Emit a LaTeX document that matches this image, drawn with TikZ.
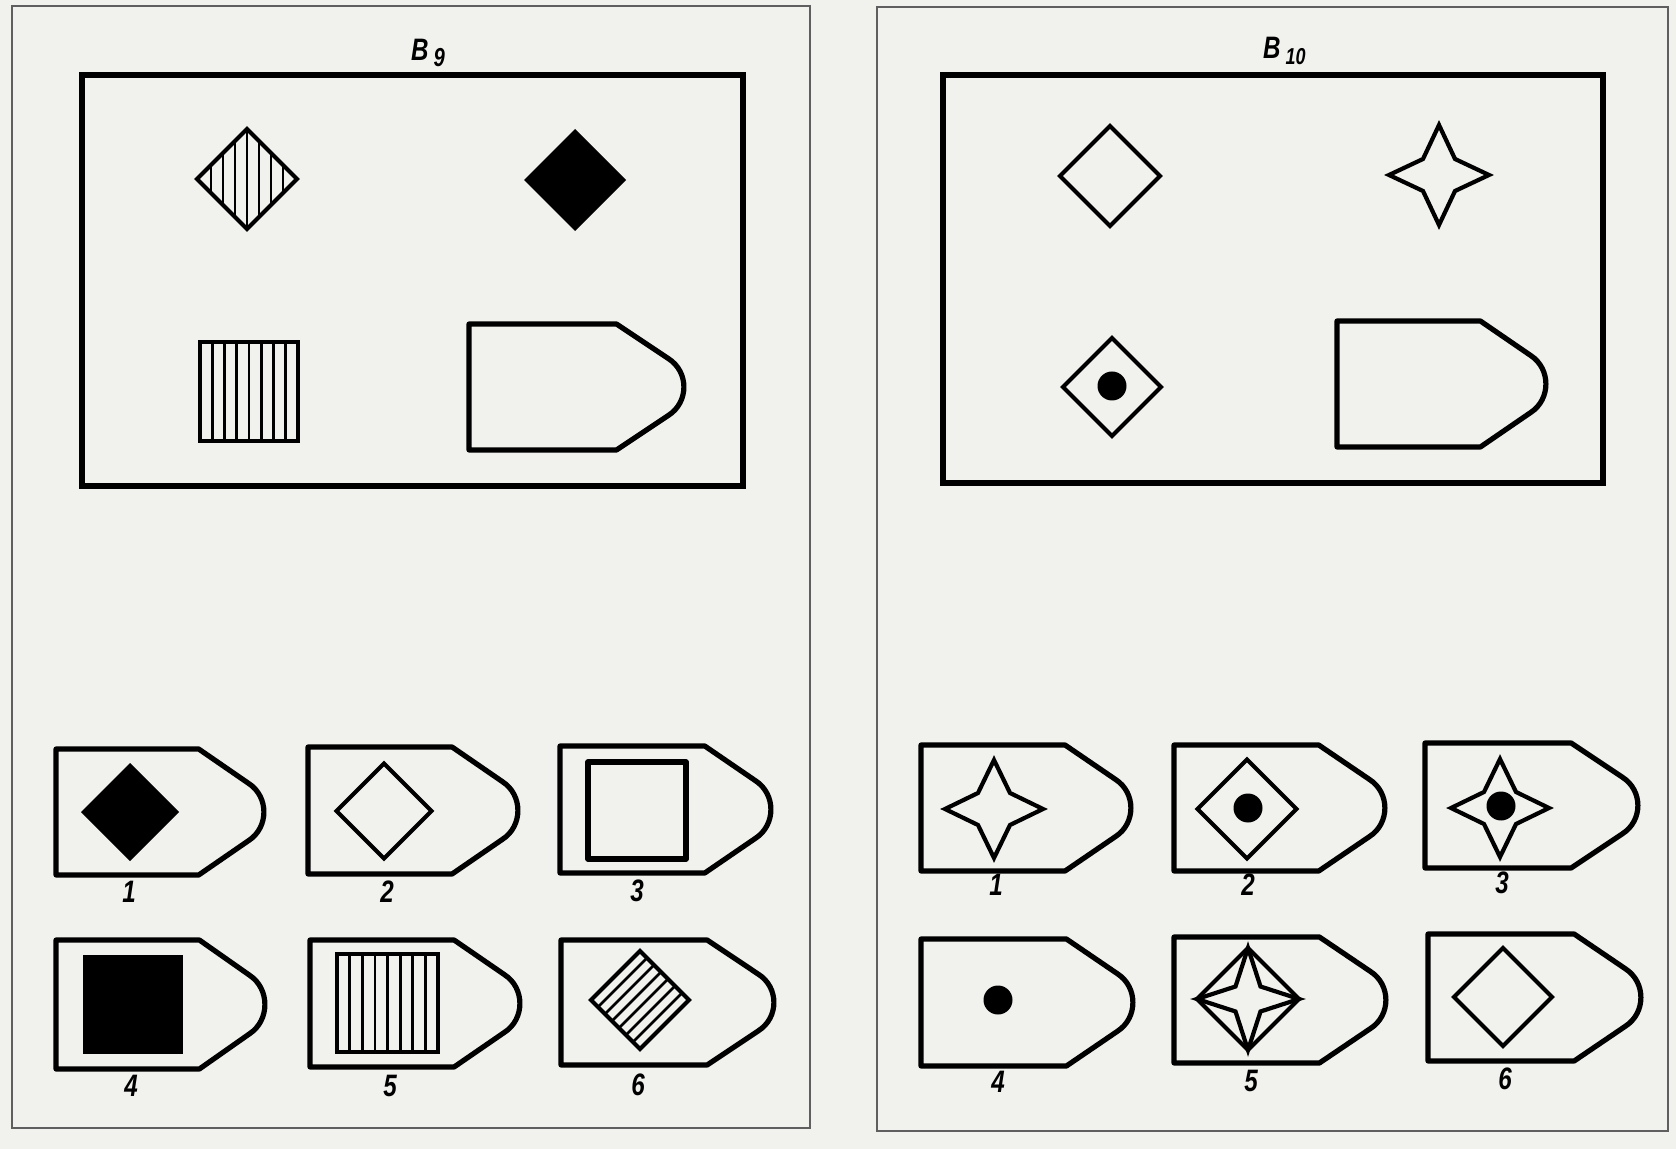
\documentclass[tikz,border=0pt]{standalone}
\usepackage{fontspec}
\usepackage{tikz}
\usetikzlibrary{shapes.geometric}
\newfontfamily\labelfont[FakeStretch=0.78]{Liberation Sans}
\definecolor{paper}{RGB}{241,241,238}
\definecolor{framegray}{RGB}{95,95,95}
\tikzset{
  frameline/.style={draw=framegray, line width=1.3pt},
  boxline/.style={draw=black, line width=2.8pt},
  badgeline/.style={draw=black, line width=2.6pt, line join=round},
  shapeline/.style={draw=black, line width=2.1pt, line join=miter},
  diam/.style={diamond, aspect=1, inner sep=0pt, outer sep=0pt},
  sq/.style={rectangle, inner sep=0pt, outer sep=0pt},
  dot/.style={circle, fill=black, inner sep=0pt, minimum size=14.5pt},
  numlabel/.style={font=\labelfont\bfseries\itshape\fontsize{15.5}{17}\selectfont},
  vhatch/.style={path picture={\foreach \k in {-3,...,3}
      \draw[line width=1.4pt] ([xshift=\k*#1]path picture bounding box.north) -- ([xshift=\k*#1]path picture bounding box.south);}},
  dhatch/.style={path picture={\foreach \k in {-2.5,-1.5,...,2.5}
      \draw[line width=1.4pt] ([shift={(\k*#1,-\k*#1)}]path picture bounding box.center) ++(-40pt,-40pt) -- ++(80pt,80pt);}}
}
% answer plate: left, top, right, bottom
\newcommand{\badge}[4]{%
  \draw[badgeline] (#1,#2) -- ({#1+0.686*(#3-#1)},#2)
    -- ({#1+0.926*(#3-#1)},{#2+0.273*(#4-#2)})
    .. controls ({#1+1.024*(#3-#1)},{#2+0.378*(#4-#2)}) and ({#1+1.024*(#3-#1)},{#2+0.622*(#4-#2)})
    .. ({#1+0.926*(#3-#1)},{#2+0.727*(#4-#2)})
    -- ({#1+0.686*(#3-#1)},#4) -- (#1,#4) -- cycle;}
% four pointed star: cx, cy, inner, outer
\newcommand{\fourstar}[4]{%
  \draw[shapeline] ({#1},{#2-#4}) -- ({#1+#3},{#2-#3}) -- ({#1+#4},{#2}) -- ({#1+#3},{#2+#3})
    -- ({#1},{#2+#4}) -- ({#1-#3},{#2+#3}) -- ({#1-#4},{#2}) -- ({#1-#3},{#2-#3}) -- cycle;}

\begin{document}
\begin{tikzpicture}[x=0.5pt, y=-0.5pt]
\fill[paper] (0,0) rectangle (1676,1149);
\useasboundingbox (0,0) rectangle (1676,1149);

% B9
\draw[frameline] (12,6) rectangle (810,1128);
\node[numlabel, anchor=base west] (t9) at (404,61) {B\,\raisebox{-3pt}{\fontsize{13}{14}\selectfont 9}};
\draw[boxline] (82,75) rectangle (743,486);

\node[diam, shapeline, vhatch=6pt, minimum size=50pt] (hd) at (247,179) {};
\node[diam, fill=black, minimum size=51pt] (bd) at (575,180) {};
\node[sq, shapeline, vhatch=6.1pt, minimum width=49pt, minimum height=49.5pt] (hs) at (249,391.5) {};
\badge{469}{324}{684}{450}

\badge{56}{749}{264}{875}
\badge{308}{747}{518}{874}
\badge{560}{746}{771}{873}
\badge{56}{940}{265}{1069}
\badge{310}{940}{520}{1067}
\badge{561}{940}{774}{1065}

\node[diam, fill=black, minimum size=49pt] (a1) at (130,812) {};
\node[diam, shapeline, minimum size=47.5pt] (a2) at (384,811) {};
\node[sq, badgeline, minimum width=49pt, minimum height=48.5pt] (a3) at (637,810.5) {};
\node[sq, fill=black, minimum width=50pt, minimum height=49.5pt] (a4) at (133,1004.5) {};
\node[sq, shapeline, vhatch=6.3pt, minimum width=50.5pt, minimum height=49pt] (a5) at (387.5,1003) {};
\node[diam, shapeline, dhatch=3.5pt, minimum size=49pt] (a6) at (640,1000) {};

\node[numlabel] (n1) at (129,892) {1};
\node[numlabel] (n2) at (387,892) {2};
\node[numlabel] (n3) at (637,891) {3};
\node[numlabel] (n4) at (131,1086) {4};
\node[numlabel] (n5) at (390,1086) {5};
\node[numlabel] (n6) at (638,1085) {6};

% B10
\draw[frameline] (877,7) rectangle (1668,1131);
\node[numlabel, anchor=base west] (t10) at (1256,59) {B\,\raisebox{-3pt}{\fontsize{11.5}{13}\selectfont 10}};
\draw[boxline] (943,75) rectangle (1603,483);

\node[diam, shapeline, minimum size=50pt] (od) at (1110,176) {};
\fourstar{1439}{175}{16}{50}
\node[diam, shapeline, minimum size=49pt] (dd) at (1112,387) {};
\node[dot] (ddot) at (1112,386) {};
\badge{1337}{321}{1546}{447}

\badge{921}{745}{1131}{871}
\badge{1174}{745}{1385}{871}
\badge{1425}{743}{1638}{868}
\badge{921}{939}{1133}{1066}
\badge{1174}{937}{1386}{1063}
\badge{1428}{934}{1641}{1061}

\fourstar{994}{809}{16}{49}
\node[diam, shapeline, minimum size=49.5pt] (b2) at (1247,809) {};
\node[dot] (b2dot) at (1248,808) {};
\fourstar{1500}{808}{16}{49}
\node[dot] (b3dot) at (1501,806) {};
\node[dot] (b4dot) at (998,1000) {};
\node[diam, shapeline, minimum size=51pt] (b5) at (1248,999) {};
\fourstar{1248}{999}{12.5}{51}
\node[diam, shapeline, minimum size=49pt] (b6) at (1503,997) {};

\node[numlabel] (m1) at (996,885) {1};
\node[numlabel] (m2) at (1248,885) {2};
\node[numlabel] (m3) at (1502,883) {3};
\node[numlabel] (m4) at (998,1082) {4};
\node[numlabel] (m5) at (1251,1081) {5};
\node[numlabel] (m6) at (1505,1079) {6};
\end{tikzpicture}
\end{document}
